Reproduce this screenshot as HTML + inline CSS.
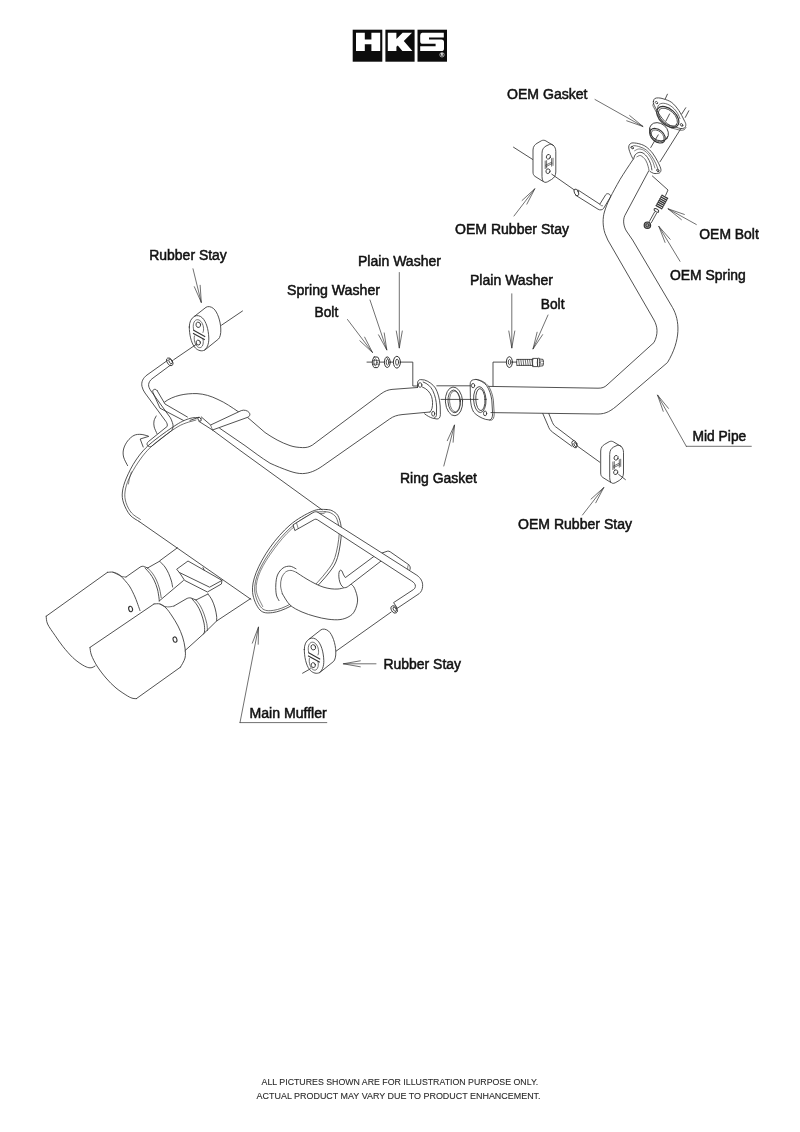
<!DOCTYPE html>
<html><head><meta charset="utf-8"><title>HKS Exhaust Diagram</title>
<style>
html,body{margin:0;padding:0;background:#fff;}
body{width:800px;height:1132px;overflow:hidden;font-family:"Liberation Sans",sans-serif;}
svg{display:block;}
svg text{font-family:"Liberation Sans",sans-serif;}
</style></head><body>
<svg width="800" height="1132" viewBox="0 0 800 1132" style="will-change:transform">
<rect width="800" height="1132" fill="#fff"/>
<g id="logo">
<rect x="352.7" y="29.7" width="29.6" height="32" fill="#0c0c0c"/>
<rect x="385.4" y="29.7" width="29.2" height="32" fill="#0c0c0c"/>
<rect x="417.5" y="29.7" width="29.5" height="32" fill="#0c0c0c"/>
<path d="M356,32.8h8.8v6.6h6.6v-6.6h8.8v18.2h-8.8v-6.8h-6.6v6.8h-8.8z" fill="#fff"/>
<path d="M387.8,32.8h8.6v6.2l6.2,-6.2h9.4l-8.2,8.2l8.6,10h-10l-4.6,-5.6l-1.4,1.4v4.2h-8.6z" fill="#fff"/>
<path d="M422.2,32.8h21.6v4.6h-14.8v2.2h12.4q2.6,0 2.6,2.6v6.2q0,2.6 -2.6,2.6h-21.2v-4.8h15.4v-2.4h-12.8q-2.6,0 -2.6,-2.6v-5.8q0,-2.6 2,-2.6z" fill="#fff"/>
<circle cx="442" cy="54.8" r="2.2" fill="none" stroke="#fff" stroke-width="0.6"/>
<text x="440.7" y="56.2" font-size="3.6" font-weight="bold" fill="#fff">R</text>
</g>
<g id="lines" fill="none" stroke="#333" stroke-width="0.85" stroke-linecap="round" stroke-linejoin="round">
<path d="M595,99.5L643,126.5M626.71,120.78L643,126.5L629.65,115.55" stroke-width="0.7"/>
<path d="M514,216L534.8,188.8M526.86,204.13L534.8,188.8L522.09,200.48" stroke-width="0.7"/>
<path d="M696.3,224.5L668,208.8M684.32,214.42L668,208.8L681.41,219.67" stroke-width="0.7"/>
<path d="M680,261.3L658.8,226.3M670.17,239.29L658.8,226.3L665.04,242.39" stroke-width="0.7"/>
<path d="M193,268.8L201.3,302.5M194.32,286.71L201.3,302.5L200.15,285.28" stroke-width="0.7"/>
<path d="M399.3,272.5L399.3,348M396.30,331.00L399.3,348L402.30,331.00" stroke-width="0.7"/>
<path d="M370,300L386.8,350M378.54,334.84L386.8,350L384.23,332.93" stroke-width="0.7"/>
<path d="M347.5,319.5L372.5,352.5M359.84,340.76L372.5,352.5L364.63,337.14" stroke-width="0.7"/>
<path d="M511.8,293.8L511.8,348M508.80,331.00L511.8,348L514.80,331.00" stroke-width="0.7"/>
<path d="M548,315L533,349M537.12,332.24L533,349L542.61,334.66" stroke-width="0.7"/>
<path d="M443.8,466L454.5,425M453.11,442.21L454.5,425L447.30,440.69" stroke-width="0.7"/>
<path d="M582.5,515L603.8,487.5M595.76,502.78L603.8,487.5L591.02,499.10" stroke-width="0.7"/>
<path d="M376,663.8L343.3,663.8M360.30,660.80L343.3,663.8L360.30,666.80" stroke-width="0.7"/>
<path d="M686.3,446.3L657.5,395M668.44,408.36L657.5,395L663.21,411.29" stroke-width="0.7"/>
<path d="M686.3,446.3L751.3,446.3" stroke-width="0.7"/>
<path d="M240,722.6L258.5,627M258.22,644.26L258.5,627L252.32,643.12" stroke-width="0.7"/>
<path d="M240,722.6L326.8,722.6" stroke-width="0.7"/>
<path d="M653.40,101.60 C653.55,100.66 653.83,99.22 654.70,98.60 C655.57,97.98 657.07,97.83 658.60,97.90 C660.13,97.97 661.71,98.23 663.90,99.00 C666.09,99.77 669.27,100.60 671.75,102.50 C674.23,104.40 676.71,107.48 678.75,110.40 C680.79,113.32 682.83,117.67 684.00,120.00 C685.17,122.33 685.70,123.08 685.80,124.40 C685.90,125.72 685.48,127.22 684.60,127.90 C683.72,128.58 681.92,128.62 680.50,128.50 C679.08,128.38 677.78,127.68 676.10,127.20 C674.42,126.72 672.25,126.53 670.40,125.60 C668.55,124.67 666.67,123.20 665.00,121.60 C663.33,120.00 661.75,117.87 660.40,116.00 C659.05,114.13 658.00,112.36 656.90,110.40 C655.80,108.44 654.38,105.72 653.80,104.25 C653.22,102.78 653.25,102.54 653.40,101.60Z"/>
<path d="M653.50,103.40 C653.40,103.73 652.82,104.67 652.90,105.40 C652.98,106.13 653.45,106.70 654.00,107.80 C654.55,108.90 655.27,110.33 656.20,112.00 C657.13,113.67 658.27,115.90 659.60,117.80 C660.93,119.70 662.50,121.80 664.20,123.40 C665.90,125.00 667.90,126.47 669.80,127.40 C671.70,128.33 673.87,128.53 675.60,129.00 C677.33,129.47 678.80,130.07 680.20,130.20 C681.60,130.33 683.05,130.23 684.00,129.80 C684.95,129.37 685.58,127.97 685.90,127.60" stroke-width="0.7"/>
<ellipse cx="667.8" cy="117" rx="13" ry="8" transform="rotate(42 667.8 117)" stroke-width="1.15"/>
<ellipse cx="668" cy="117.2" rx="11.4" ry="6.6" transform="rotate(42 668 117.2)" stroke-width="0.8"/>
<path d="M657.6,108.6 C657.2,104.6 660.6,102.4 665.6,103.6 C671.6,105 677.6,111 680,118.6" stroke-width="0.7"/>
<ellipse cx="656.5" cy="102.6" rx="1.4" ry="1.0" transform="rotate(40 656.5 102.6)" stroke-width="0.7"/>
<ellipse cx="681.6" cy="124.9" rx="1.5" ry="1.1" transform="rotate(40 681.6 124.9)"/>
<path d="M667.4,94.2L665.2,99"/>
<path d="M685.75,107.75L681.8,113.9"/>
<path d="M688.8,110.8L685.3,117.4"/>
<path d="M669.6,113.9L666,120.9"/>
<ellipse cx="659" cy="131.8" rx="10.4" ry="8.2" transform="rotate(40 659 131.8)"/>
<ellipse cx="657.5" cy="135.7" rx="8.8" ry="6.0" transform="rotate(40 657.5 135.7)" stroke-width="1.15"/>
<ellipse cx="657.7" cy="135.9" rx="7.4" ry="4.7" transform="rotate(40 657.7 135.9)" stroke-width="0.7"/>
<path d="M650.2,128.8L649.8,133.2"/>
<path d="M667.6,136.4L665.6,139.8"/>
<path d="M658.2,134.9L650.75,147.5"/>
<path d="M681,128.4L660,161.8"/>
<path d="M633.10,159.00 C632.90,158.65 632.48,158.17 631.90,156.90 C631.32,155.63 630.13,153.05 629.60,151.40 C629.07,149.75 628.63,148.23 628.70,147.00 C628.77,145.77 629.27,144.68 630.00,144.00 C630.73,143.32 631.43,142.90 633.10,142.90 C634.77,142.90 637.81,143.33 640.00,144.00 C642.19,144.67 644.17,145.38 646.25,146.90 C648.33,148.42 650.62,150.71 652.50,153.10 C654.38,155.49 656.15,158.75 657.50,161.25 C658.85,163.75 660.07,166.41 660.60,168.10 C661.13,169.79 661.01,170.55 660.70,171.40 C660.39,172.25 659.91,172.87 658.75,173.20 C657.59,173.53 655.21,173.70 653.75,173.40 C652.29,173.10 650.62,171.73 650.00,171.40"/>
<path d="M631.30,147.60 C631.71,147.28 632.30,145.82 633.75,145.70 C635.20,145.58 637.92,146.18 640.00,146.90 C642.08,147.62 644.38,148.55 646.25,150.00 C648.12,151.45 649.69,153.42 651.25,155.60 C652.81,157.78 654.46,160.70 655.60,163.10 C656.74,165.50 657.77,168.55 658.10,170.00 C658.43,171.45 657.68,171.50 657.60,171.80" stroke-width="0.7"/>
<path d="M633.75,158.75 C633.96,158.12 634.17,156.04 635.00,155.00 C635.83,153.96 637.40,152.82 638.75,152.50 C640.10,152.18 641.64,152.27 643.10,153.10 C644.56,153.93 646.25,155.72 647.50,157.50 C648.75,159.28 649.87,161.67 650.60,163.75 C651.33,165.83 651.68,168.96 651.90,170.00"/>
<path d="M636.90,156.90 C637.52,156.68 639.15,155.08 640.60,155.60 C642.05,156.12 644.35,158.22 645.60,160.00 C646.85,161.78 647.55,164.58 648.10,166.25 C648.65,167.92 648.77,169.38 648.90,170.00" stroke-width="0.7"/>
<path d="M634.60,150.80 C635.27,150.50 637.10,149.10 638.60,149.00 C640.10,148.90 641.90,149.23 643.60,150.20 C645.30,151.17 647.30,152.97 648.80,154.80 C650.30,156.63 651.58,159.00 652.60,161.20 C653.62,163.40 654.52,166.87 654.90,168.00" stroke-width="0.6"/>
<ellipse cx="632.2" cy="147.6" rx="1.4" ry="1.0" transform="rotate(40 632.2 147.6)"/>
<ellipse cx="657.8" cy="170.4" rx="1.4" ry="1.0" transform="rotate(40 657.8 170.4)"/>
<path d="M652.4,176 L668,190 L665.6,195.4"/>
<path d="M662.0,195.2L667.6,198.4" stroke-width="1.25"/>
<path d="M661.03,196.93L666.63,200.13" stroke-width="1.25"/>
<path d="M660.07,198.67L665.67,201.87" stroke-width="1.25"/>
<path d="M659.1,200.4L664.7,203.6" stroke-width="1.25"/>
<path d="M658.13,202.13L663.73,205.33" stroke-width="1.25"/>
<path d="M657.17,203.87L662.77,207.07" stroke-width="1.25"/>
<path d="M656.2,205.6L661.8,208.8" stroke-width="1.25"/>
<path d="M662,195.2 L656.2,205.6 M667.6,198.4 L661.8,208.8" stroke-width="0.8"/>
<ellipse cx="656.4" cy="210.4" rx="2.6" ry="1.4" transform="rotate(30 656.4 210.4)" stroke-width="1.0"/>
<path d="M654.6,212 L649.4,221.4 M656.6,213.2 L651.4,222.6"/>
<ellipse cx="647.4" cy="225.2" rx="3.2" ry="3.2" transform="rotate(0 647.4 225.2)" fill="#999" stroke-width="1.2"/>
<ellipse cx="647.4" cy="225.2" rx="1.6" ry="1.6" transform="rotate(0 647.4 225.2)" stroke-width="0.9"/>
<path d="M633.1,159.4 C628,167 624,173 620,179.5 C616,186.6 613,192 610,198 C607,204 605.6,208 604.4,212 C602.6,218 602.6,226 605,233.4 L607.8,240 L654,320 C657.6,326.6 658.4,334 654,342.5 L607,385 C604.6,387.4 602,388.2 598,388.2 L489,386.4"/>
<path d="M648.75,170.8 L624.8,215.6 C622.8,220 623.4,226 626.4,231 L632.6,240 L672.5,307.5 C680,320.6 681,340 667.5,362.5 L619,404 C611,411 606,414 598,414 L491,412.6"/>
<path d="M 542.00 153.00 C 542.00 149.50 543.50 147.50 546.00 146.00 L 549.50 144.40 C 551.00 144.00 552.40 144.40 553.60 145.60 C 555.00 147.00 555.80 149.00 555.80 151.50 L 555.80 172.00 C 555.80 175.50 554.00 178.00 551.50 179.50 L 547.50 181.80 C 545.50 182.80 544.00 182.40 543.00 181.00 C 542.30 180.00 542.00 178.50 542.00 177.00 Z"/>
<path d="M 553.60 145.60 L 546.00 141.00 C 544.60 140.10 543.00 140.00 541.50 140.70 L 537.00 143.30 C 535.00 144.50 533.00 146.50 533.00 150.00 L 533.00 172.00 C 533.00 174.00 533.60 175.40 535.00 176.40 L 543.00 181.40"/>
<ellipse cx="548.4" cy="156.8" rx="2.0" ry="2.4" transform="rotate(20 548.4 156.8)"/>
<ellipse cx="548.0" cy="171.2" rx="2.0" ry="2.4" transform="rotate(20 548.0 171.2)"/>
<path d="M 545.20 161.00 L 545.20 168.60 M 546.60 160.60 L 546.60 168.00 M 545.60 165.20 L 551.60 162.20 M 546.00 166.60 L 552.00 163.60 M 551.60 158.60 L 551.60 166.20 M 553.00 158.20 L 553.00 165.40" stroke-width="0.7"/>
<path d="M 609.70 454.00 C 609.70 450.50 611.20 448.50 613.70 447.00 L 617.20 445.40 C 618.70 445.00 620.10 445.40 621.30 446.60 C 622.70 448.00 623.50 450.00 623.50 452.50 L 623.50 473.00 C 623.50 476.50 621.70 479.00 619.20 480.50 L 615.20 482.80 C 613.20 483.80 611.70 483.40 610.70 482.00 C 610.00 481.00 609.70 479.50 609.70 478.00 Z"/>
<path d="M 621.30 446.60 L 613.70 442.00 C 612.30 441.10 610.70 441.00 609.20 441.70 L 604.70 444.30 C 602.70 445.50 600.70 447.50 600.70 451.00 L 600.70 473.00 C 600.70 475.00 601.30 476.40 602.70 477.40 L 610.70 482.40"/>
<ellipse cx="616.1" cy="457.8" rx="2.0" ry="2.4" transform="rotate(20 616.1 457.8)"/>
<ellipse cx="615.7" cy="472.2" rx="2.0" ry="2.4" transform="rotate(20 615.7 472.2)"/>
<path d="M 612.90 462.00 L 612.90 469.60 M 614.30 461.60 L 614.30 469.00 M 613.30 466.20 L 619.30 463.20 M 613.70 467.60 L 619.70 464.60 M 619.30 459.60 L 619.30 467.20 M 620.70 459.20 L 620.70 466.40" stroke-width="0.7"/>
<path d="M513.5,147.2L532.6,159.4"/>
<path d="M551.8,174.2L574.4,190"/>
<ellipse cx="576.4" cy="192.4" rx="2.0" ry="3.6" transform="rotate(-25 576.4 192.4)"/>
<path d="M578,190 L599.8,204.2 L605.8,194.6 C606.6,193.4 608.4,193.4 609.6,194.4 C610.6,195.2 610.8,196.4 610.2,197.4 L603.6,208.4 C602.4,210 600,210.4 598,209.2 L575.6,195.2"/>
<path d="M599.8,204.2 C600.4,205.6 601.6,206 602.6,205.8" stroke-width="0.6"/>
<path d="M548.8,413.6 L552.4,422.4 C553.4,424.8 555,426.6 557,427.8 L573.6,440.4"/>
<path d="M542.8,413.6 L548,425.6 C549,428.6 550.4,430.6 552.6,432.2 L572,446.4"/>
<ellipse cx="574.6" cy="444.2" rx="2.3" ry="3.9" transform="rotate(-25 574.6 444.2)"/>
<ellipse cx="575.4" cy="444.6" rx="1.2" ry="2.2" transform="rotate(-25 575.4 444.6)"/>
<path d="M577.8,446.4L599.8,462.2"/>
<path d="M618.6,474.4L625.4,479.6"/>
<path d="M 189.30 327.00 C 189.30 322.00 191.00 318.50 194.50 316.30 C 197.00 315.00 200.00 315.50 202.50 318.00 C 206.00 321.50 208.50 329.00 208.80 338.00 C 209.00 344.00 207.00 349.00 203.50 350.50 C 200.50 351.50 197.00 350.00 194.50 347.00 C 191.00 342.50 189.30 334.00 189.30 327.00 Z"/>
<path d="M 194.50 316.30 L 206.00 307.30 C 208.00 306.00 211.00 306.50 213.50 308.50 C 217.50 312.00 220.50 321.00 220.80 329.00 C 221.00 334.00 220.00 337.50 218.50 339.00 L 204.60 350.20"/>
<ellipse cx="198.3" cy="324.8" rx="2.3" ry="2.7" transform="rotate(-15 198.3 324.8)"/>
<ellipse cx="198.3" cy="342.6" rx="2.1" ry="2.5" transform="rotate(-15 198.3 342.6)"/>
<path d="M 193.60 329.60 C 192.60 325.00 193.60 320.80 196.60 319.80 C 199.60 319.00 202.60 322.40 203.40 327.00 C 203.80 329.40 203.60 331.00 203.00 332.40" stroke-width="0.7"/>
<path d="M 194.40 336.00 C 194.00 338.00 194.20 340.40 195.00 342.80 C 196.20 346.40 198.80 348.40 201.00 347.40 C 203.20 346.20 203.80 342.60 203.00 339.00" stroke-width="0.7"/>
<path d="M 193.60 330.20 L 204.80 336.60 M 193.40 333.40 L 204.40 339.60" stroke-width="1.1"/>
<path d="M 304.30 649.50 C 304.30 644.50 306.00 641.00 309.50 638.80 C 312.00 637.50 315.00 638.00 317.50 640.50 C 321.00 644.00 323.50 651.50 323.80 660.50 C 324.00 666.50 322.00 671.50 318.50 673.00 C 315.50 674.00 312.00 672.50 309.50 669.50 C 306.00 665.00 304.30 656.50 304.30 649.50 Z"/>
<path d="M 309.50 638.80 L 321.00 629.80 C 323.00 628.50 326.00 629.00 328.50 631.00 C 332.50 634.50 335.50 643.50 335.80 651.50 C 336.00 656.50 335.00 660.00 333.50 661.50 L 319.60 672.70"/>
<ellipse cx="313.3" cy="647.3" rx="2.3" ry="2.7" transform="rotate(-15 313.3 647.3)"/>
<ellipse cx="313.3" cy="665.1" rx="2.1" ry="2.5" transform="rotate(-15 313.3 665.1)"/>
<path d="M 308.60 652.10 C 307.60 647.50 308.60 643.30 311.60 642.30 C 314.60 641.50 317.60 644.90 318.40 649.50 C 318.80 651.90 318.60 653.50 318.00 654.90" stroke-width="0.7"/>
<path d="M 309.40 658.50 C 309.00 660.50 309.20 662.90 310.00 665.30 C 311.20 668.90 313.80 670.90 316.00 669.90 C 318.20 668.70 318.80 665.10 318.00 661.50" stroke-width="0.7"/>
<path d="M 308.60 652.70 L 319.80 659.10 M 308.40 655.90 L 319.40 662.10" stroke-width="1.1"/>
<path d="M221.5,325.2L242.5,311"/>
<path d="M196.8,344L173.6,359.8"/>
<ellipse cx="169.8" cy="361.8" rx="2.6" ry="4.3" transform="rotate(-30 169.8 361.8)"/>
<ellipse cx="170.6" cy="361.4" rx="1.4" ry="2.6" transform="rotate(-30 170.6 361.4)"/>
<path d="M336,651.2L391.2,612"/>
<path d="M310.4,668.8L302.6,673.2"/>
<path d="M367,362.1L372.2,362.1"/>
<path d="M379.4,362.1L384.4,362.1"/>
<path d="M390.2,362.1L393.4,362.1"/>
<path d="M400.4,362.1 L412.8,362.1 L412.8,386 L417.5,386"/>
<path d="M374.2,357 L377.6,357 C378.8,358.4 379.4,360.2 379.4,362.2 C379.4,364.4 378.8,366.2 377.6,367.6 L374.2,367.6 C373,366.2 372.3,364.4 372.3,362.2 C372.3,360.2 373,358.4 374.2,357Z" stroke-width="1.0"/>
<ellipse cx="375.4" cy="362.3" rx="1.6" ry="3.4" transform="rotate(0 375.4 362.3)"/>
<path d="M372.6,360.4L379.2,360.4" stroke-width="0.6"/>
<path d="M372.6,364.2L379.2,364.2" stroke-width="0.6"/>
<ellipse cx="387.3" cy="362.2" rx="2.9" ry="5.3" transform="rotate(0 387.3 362.2)" stroke-width="1.0"/>
<ellipse cx="387.5" cy="362.2" rx="1.3" ry="2.9" transform="rotate(0 387.5 362.2)"/>
<path d="M386.4,357.2L388.6,360" stroke-width="0.6"/>
<ellipse cx="396.9" cy="362.2" rx="3.5" ry="5.9" transform="rotate(0 396.9 362.2)" stroke-width="1.0"/>
<ellipse cx="397.1" cy="362.2" rx="1.5" ry="3.1" transform="rotate(0 397.1 362.2)"/>
<path d="M417.5,387.4 L417.5,383.4 C417.6,381 418.8,379.6 420.6,379.6 L424.6,380 C429,381.4 433,384.6 435.4,388 C438,392.6 439.6,398.6 440.2,406 L440.4,414.6 C440.2,417.6 439,419 437,419 L432.6,418.2 C430,417.4 427,415.8 424.6,413.8"/>
<path d="M423.2,382 C427.6,383.6 430.8,386.6 432.8,390.6 C435.2,395.6 436.4,401 436.6,407 L436.4,415.4 C436.2,416.6 435.6,417.4 434.6,417.4"/>
<ellipse cx="420.1" cy="385" rx="1.8" ry="2.3" transform="rotate(0 420.1 385)"/>
<ellipse cx="433.2" cy="413.7" rx="1.5" ry="2.4" transform="rotate(0 433.2 413.7)"/>
<path d="M422.4,387 C426.6,388.6 430,392 431.6,396.6 C432.8,400.6 432.8,405 432,408.4 C431.6,410 430.8,411.2 430,412"/>
<ellipse cx="454" cy="401.4" rx="8.6" ry="14.4" transform="rotate(-4 454 401.4)"/>
<ellipse cx="454.2" cy="401.4" rx="6.2" ry="11.4" transform="rotate(-4 454.2 401.4)"/>
<ellipse cx="454.8" cy="401.4" rx="5.2" ry="10.4" transform="rotate(-4 454.8 401.4)" stroke-width="0.6"/>
<path d="M441,399.4L478,399.4"/>
<path d="M436.8,385.8L470.4,385.8"/>
<path d="M470.2,383.6 C470.2,381.6 471.4,380.2 473.2,379.8 L476,379.4 C480,380.2 484,382.4 486.6,385.6 C489.4,389.6 491,394.6 491.8,400 L492.6,413.6 C492.6,417.4 491.6,419.6 489.6,420 L485.6,419.4 C481,418 476.4,415.4 473.6,412 C471.6,408.6 470.6,404 470.4,398 Z"/>
<path d="M476,379.4 L477.6,379.6 C481.6,380.4 485.6,382.6 488.2,385.8 C491,389.8 492.6,394.8 493.4,400.2 L494.2,413.8 C494.2,417.6 493.2,419.8 491.2,420.2 L489.6,420" stroke-width="0.7"/>
<ellipse cx="479.8" cy="399.6" rx="6.2" ry="13" transform="rotate(-3 479.8 399.6)"/>
<ellipse cx="480.4" cy="399.6" rx="4.6" ry="11" transform="rotate(-3 480.4 399.6)"/>
<ellipse cx="473.1" cy="385.6" rx="1.6" ry="2.2" transform="rotate(0 473.1 385.6)"/>
<ellipse cx="485.1" cy="413.4" rx="1.6" ry="2.4" transform="rotate(0 485.1 413.4)"/>
<path d="M506,362.1 L493,362.1 L493,386"/>
<ellipse cx="509.4" cy="362.1" rx="3.0" ry="5.4" transform="rotate(0 509.4 362.1)" stroke-width="1.0"/>
<ellipse cx="509.6" cy="362.1" rx="1.3" ry="2.6" transform="rotate(0 509.6 362.1)"/>
<path d="M512.6,362.1L516.8,362.1"/>
<path d="M517,359.4 L533,359.4 M517,365.4 L533,365.4 M517,359.4 C516.4,361 516.4,363.6 517,365.4"/>
<path d="M518.6,359.4L519.4,365.4" stroke-width="0.7"/>
<path d="M520.8000000000001,359.4L521.6,365.4" stroke-width="0.7"/>
<path d="M523.0,359.4L523.8,365.4" stroke-width="0.7"/>
<path d="M525.2,359.4L526.0,365.4" stroke-width="0.7"/>
<path d="M527.4,359.4L528.1999999999999,365.4" stroke-width="0.7"/>
<path d="M529.6,359.4L530.4,365.4" stroke-width="0.7"/>
<path d="M531.8000000000001,359.4L532.6,365.4" stroke-width="0.7"/>
<path d="M533,358.4 L537.6,358.4 L537.6,366.6 L533,366.6 Z"/>
<ellipse cx="538.6" cy="362.5" rx="1.3" ry="4.7" transform="rotate(0 538.6 362.5)"/>
<path d="M539.6,359 L543,359.4 C543.6,361.4 543.6,363.8 543,365.8 L539.6,366.2"/>
<path d="M539.8,361L543.4,361.2" stroke-width="0.6"/>
<path d="M539.8,364L543.4,364" stroke-width="0.6"/>
<path d="M417.5,387.5 L392,389.4 C388,389.8 385,391 381,393.8 L312.5,445 C309,447.2 306,447.8 302.5,447.6 C298,447.4 294,447 290,445.6 C281,442.6 273,438 265,432.5 L250,419.5 C246,416 242,413.5 238,411.5 C232,407.5 225,402.5 218,399.5 C211,396 204,394 197,393.6 C191,393.4 185,394 180,395.2 C174,396.6 169,398.8 164.6,402"/>
<path d="M430,412 L402,414.6 C397,415.2 393.6,416.2 389.6,419 L322.5,466 C316,470.6 309.6,473.4 302.5,473.6 C298,473.6 294,472.6 290,471.25 C283,468.8 276,466 270,463.2 C261,457.6 253,451.4 245,445.6 L219.6,428.2"/>
<path d="M201.25,416.9 L210.6,425 L241.25,410.6 C244,409.6 247.5,410.4 249.2,412.6 C250.6,414.6 249.6,416.6 247.4,417.4 L212.5,430 L198.75,421.25" fill="#fff"/>
<path d="M210.6,425L212.5,430" stroke-width="0.6"/>
<path d="M167.5,360.4 L147,375 C143,378 141,382 142,386.5 C142.6,389 143.6,391 145,393 L166,421.6 C167,423 167.6,424.6 167.2,426.4 L148.4,441.6 C147,442.8 146.6,444.4 147.6,445.6 C148.6,446.8 150,447 151.4,446.4 L171.6,430.6 C173.2,428.6 173.6,425.6 172.4,422.6 C171.8,420.6 171,419 170.4,417.8 L151,391 C149.4,388.6 148.4,386.6 148.6,384.6 C148.8,382.4 150,380.4 152,378.8 L170.6,365"/>
<path d="M157,390.4 C156,389 154.4,389 153.4,389.8 C152.6,390.6 152.6,391.6 153,392.6 L160,408.2 L183.4,420.4"/>
<path d="M157,390.4 L165,404 L187.4,417"/>
<path d="M199.00,417.60 C197.50,417.73 193.83,417.17 190.00,418.40 C186.17,419.63 182.67,420.73 176.00,425.00 C169.33,429.27 156.67,438.17 150.00,444.00 C143.33,449.83 139.93,454.33 136.00,460.00 C132.07,465.67 128.67,472.67 126.40,478.00 C124.13,483.33 122.87,487.83 122.40,492.00 C121.93,496.17 122.33,499.17 123.60,503.00 C124.87,506.83 127.43,511.93 130.00,515.00 C132.57,518.07 137.50,520.33 139.00,521.40"/>
<path d="M196.00,420.00 C193.00,421.10 185.33,422.27 178.00,426.60 C170.67,430.93 158.60,440.10 152.00,446.00 C145.40,451.90 142.27,456.50 138.40,462.00 C134.53,467.50 131.03,474.00 128.80,479.00 C126.57,484.00 125.47,488.07 125.00,492.00 C124.53,495.93 124.90,499.10 126.00,502.60 C127.10,506.10 129.20,510.20 131.60,513.00 C134.00,515.80 138.93,518.33 140.40,519.40" stroke-width="0.7"/>
<path d="M131.40,472.00 C131.10,473.00 130.10,476.00 129.60,478.00 C129.10,480.00 128.60,483.00 128.40,484.00" stroke-width="0.6"/>
<path d="M190,420.4 L198.6,417.4"/>
<ellipse cx="199.6" cy="419.2" rx="1.4" ry="2.2" transform="rotate(-30 199.6 419.2)"/>
<path d="M212.5,430 L240,450.4 L322,509.8"/>
<path d="M139,521.4L251,599.4"/>
<path d="M156.20,416.00 C155.83,416.83 154.33,419.17 154.00,421.00 C153.67,422.83 153.70,424.90 154.20,427.00 C154.70,429.10 156.53,432.50 157.00,433.60"/>
<path d="M148.00,436.00 C146.83,435.73 143.33,434.50 141.00,434.40 C138.67,434.30 136.23,434.30 134.00,435.40 C131.77,436.50 129.33,438.73 127.60,441.00 C125.87,443.27 124.27,446.33 123.60,449.00 C122.93,451.67 122.93,454.23 123.60,457.00 C124.27,459.77 126.93,464.17 127.60,465.60"/>
<path d="M148.6,436.4 L140.2,439 L143.2,447"/>
<path d="M326.20,509.50 C329.70,509.55 331.40,510.17 333.50,511.50 C335.60,512.83 337.48,514.00 338.80,517.50 C340.12,521.00 341.62,525.83 341.40,532.50 C341.18,539.17 339.60,550.75 337.50,557.50 C335.40,564.25 333.38,567.08 328.80,573.00 C324.22,578.92 316.47,587.42 310.00,593.00 C303.53,598.58 296.25,603.23 290.00,606.50 C283.75,609.77 277.50,612.02 272.50,612.60 C267.50,613.18 263.32,613.35 260.00,610.00 C256.68,606.65 253.23,598.75 252.60,592.50 C251.97,586.25 253.30,580.00 256.20,572.50 C259.10,565.00 264.37,555.42 270.00,547.50 C275.63,539.58 282.92,531.05 290.00,525.00 C297.08,518.95 306.47,513.78 312.50,511.20 C318.53,508.62 322.70,509.45 326.20,509.50Z"/>
<path d="M325.02,511.82 C328.37,511.80 330.02,512.37 332.02,513.64 C334.03,514.91 335.84,516.03 337.04,519.41 C338.24,522.79 339.57,527.55 339.21,533.90 C338.85,540.26 337.02,551.24 334.90,557.55 C332.78,563.86 330.77,566.28 326.51,571.76 C322.26,577.25 315.36,585.11 309.37,590.48 C303.39,595.84 296.54,600.66 290.59,603.97 C284.65,607.27 278.55,609.64 273.72,610.30 C268.89,610.97 264.79,611.18 261.62,607.97 C258.46,604.75 255.22,597.04 254.73,591.00 C254.23,584.96 255.72,578.82 258.68,571.71 C261.63,564.60 267.10,555.71 272.46,548.34 C277.82,540.96 284.27,533.23 290.84,527.46 C297.41,521.69 306.20,516.34 311.90,513.73 C317.59,511.12 321.66,511.83 325.02,511.82Z" stroke-width="0.7"/>
<path d="M262.74,606.56 C261.65,603.79 256.59,595.86 256.20,589.97 C255.80,584.07 257.40,578.01 260.39,571.17 C263.39,564.33 268.99,555.92 274.17,548.92 C279.34,541.92 285.20,534.74 291.42,529.16 C297.64,523.59 306.02,518.10 311.48,515.48 C316.94,512.86 322.08,513.76 324.20,513.42" stroke-width="0.6"/>
<path d="M296.00,568.80 C295.00,568.37 292.17,566.33 290.00,566.20 C287.83,566.07 285.08,566.53 283.00,568.00 C280.92,569.47 278.70,572.17 277.50,575.00 C276.30,577.83 275.98,581.67 275.80,585.00 C275.62,588.33 275.87,592.40 276.40,595.00 C276.93,597.60 278.57,599.67 279.00,600.60 L282.40,593.80 C283.67,595.67 286.73,601.97 290.00,605.00 C293.27,608.03 297.83,610.10 302.00,612.00 C306.17,613.90 310.67,615.20 315.00,616.40 C319.33,617.60 323.83,618.67 328.00,619.20 C332.17,619.73 336.50,620.03 340.00,619.60 C343.50,619.17 346.57,618.03 349.00,616.60 C351.43,615.17 353.17,613.77 354.60,611.00 C356.03,608.23 357.60,603.77 357.60,600.00 C357.60,596.23 355.77,591.13 354.60,588.40 C353.43,585.67 352.03,585.17 350.60,583.60 C349.17,582.03 346.77,579.77 346.00,579.00 L343.40,588.00 C342.50,588.17 340.07,588.87 338.00,589.00 C335.93,589.13 333.50,589.13 331.00,588.80 C328.50,588.47 325.67,587.87 323.00,587.00 C320.33,586.13 317.83,585.00 315.00,583.60 C312.17,582.20 309.10,580.47 306.00,578.60 C302.90,576.73 298.00,573.43 296.40,572.40Z" fill="#fff" stroke="none"/>
<path d="M296.00,568.80 C295.00,568.37 292.17,566.33 290.00,566.20 C287.83,566.07 285.08,566.53 283.00,568.00 C280.92,569.47 278.70,572.17 277.50,575.00 C276.30,577.83 275.98,581.67 275.80,585.00 C275.62,588.33 275.87,592.40 276.40,595.00 C276.93,597.60 278.57,599.67 279.00,600.60"/>
<path d="M296.40,572.40 C295.50,572.07 292.80,570.47 291.00,570.40 C289.20,570.33 287.17,570.73 285.60,572.00 C284.03,573.27 282.43,575.67 281.60,578.00 C280.77,580.33 280.47,583.37 280.60,586.00 C280.73,588.63 282.10,592.50 282.40,593.80" stroke-width="0.7"/>
<path d="M282.40,593.80 C283.67,595.67 286.73,601.97 290.00,605.00 C293.27,608.03 297.83,610.10 302.00,612.00 C306.17,613.90 310.67,615.20 315.00,616.40 C319.33,617.60 323.83,618.67 328.00,619.20 C332.17,619.73 336.50,620.03 340.00,619.60 C343.50,619.17 346.57,618.03 349.00,616.60 C351.43,615.17 353.17,613.77 354.60,611.00 C356.03,608.23 357.60,603.77 357.60,600.00 C357.60,596.23 355.77,591.13 354.60,588.40 C353.43,585.67 352.03,585.17 350.60,583.60 C349.17,582.03 346.77,579.77 346.00,579.00"/>
<path d="M296.40,572.40 C298.00,573.43 302.90,576.73 306.00,578.60 C309.10,580.47 312.17,582.20 315.00,583.60 C317.83,585.00 320.33,586.13 323.00,587.00 C325.67,587.87 328.50,588.47 331.00,588.80 C333.50,589.13 335.93,589.13 338.00,589.00 C340.07,588.87 342.50,588.17 343.40,588.00"/>
<path d="M380.6,554.6 L381.4,553.2 L387.4,551.2 C388.4,551 389.4,551.2 390.2,551.8 L408.6,564.6 C410,565.8 410.6,567.6 410,569.4 L408.2,572.2 L380.6,554.6" fill="#fff"/>
<path d="M408.6,564.6 C407.4,566.4 407.2,569 408.2,572.2" stroke-width="0.6"/>
<path d="M376.4,554.6 L345.4,577.6 C344,576 343,574 342.4,572 C341.8,570.2 340.4,569.6 339.6,570.8 C338.6,572.6 338.6,576 339.2,579.4 C339.8,583 341.2,586 343.4,587.4 C345,588.2 346.8,587.4 348.4,586.2 L382.2,560.2 Z" fill="#fff"/>
<path d="M293.4,524.6 L313,512.6 C314.6,511.6 316.4,511.4 318,512.4 L416.8,575.2 C420.8,578 423,581.8 422.6,586.4 C422.4,589.6 421.2,592 419.2,593.6 L397.4,608.2 L393.6,602.6 L413.4,589.6 C414.6,588.8 415.2,587.8 415.4,586.4 C415.6,584.4 414.2,582.6 411.4,580.8 L317.2,519.6 C316.4,519.2 315.4,519 314.6,519.4 L295.2,530.4 Z" fill="#fff"/>
<path d="M296.6,523.2L298.2,528.4" stroke-width="0.6"/>
<ellipse cx="394.2" cy="609.4" rx="2.8" ry="4.0" transform="rotate(-30 394.2 609.4)" fill="#fff"/>
<ellipse cx="394.8" cy="609.2" rx="1.4" ry="2.4" transform="rotate(-30 394.8 609.2)"/>
<path d="M177.4,547.8L160,560.6"/>
<path d="M177,569 L188,561 L222,580.4 L221.4,584 L207.4,592 L184.6,580.4 L180.4,574 Z M179.6,572.6 L209.6,587.2 L222,580.4 M203,567.6 L204.2,570.2"/>
<path d="M46.2,616.2 L107.4,572.4"/>
<path d="M46.20,616.20 C46.43,617.50 46.13,620.80 47.60,624.00 C49.07,627.20 52.43,631.63 55.00,635.40 C57.57,639.17 60.07,642.93 63.00,646.60 C65.93,650.27 69.60,654.50 72.60,657.40 C75.60,660.30 78.50,662.33 81.00,664.00 C83.50,665.67 85.77,666.80 87.60,667.40 C89.43,668.00 90.77,667.83 92.00,667.60 C93.23,667.37 94.50,666.27 95.00,666.00"/>
<path d="M107.40,572.40 C108.33,572.37 110.97,571.77 113.00,572.20 C115.03,572.63 117.60,573.60 119.60,575.00 C121.60,576.40 123.27,578.60 125.00,580.60 C126.73,582.60 128.33,584.27 130.00,587.00 C131.67,589.73 133.57,593.73 135.00,597.00 C136.43,600.27 137.77,604.33 138.60,606.60 C139.43,608.87 139.77,609.93 140.00,610.60"/>
<path d="M113.00,572.20 C113.83,572.60 116.50,573.87 118.00,574.60 C119.50,575.33 120.67,576.20 122.00,576.60 C123.33,577.00 125.33,576.93 126.00,577.00" stroke-width="0.7"/>
<path d="M126,577 L140,567.2 C141.4,566.2 143,566 144.4,566.6 L147.6,568"/>
<path d="M145.00,568.00 C145.83,568.93 148.50,571.60 150.00,573.60 C151.50,575.60 152.77,577.43 154.00,580.00 C155.23,582.57 156.57,586.00 157.40,589.00 C158.23,592.00 158.70,596.00 159.00,598.00 C159.30,600.00 159.17,600.50 159.20,601.00"/>
<path d="M147.60,568.00 C148.40,568.87 150.93,571.20 152.40,573.20 C153.87,575.20 155.20,577.37 156.40,580.00 C157.60,582.63 158.80,586.07 159.60,589.00 C160.40,591.93 160.93,596.17 161.20,597.60" stroke-width="0.7"/>
<path d="M147.6,568 L160,561"/>
<path d="M160.00,561.60 C160.83,562.50 163.57,565.03 165.00,567.00 C166.43,568.97 167.53,571.07 168.60,573.40 C169.67,575.73 170.73,578.73 171.40,581.00 C172.07,583.27 172.40,586.00 172.60,587.00"/>
<ellipse cx="130.6" cy="609" rx="1.9" ry="2.7" transform="rotate(-15 130.6 609)" stroke-width="1.1"/>
<path d="M159.2,601 L183.4,580.6"/>
<path d="M90,647.4 L154,604"/>
<path d="M90.00,647.40 C90.23,648.67 90.23,651.90 91.40,655.00 C92.57,658.10 94.57,662.17 97.00,666.00 C99.43,669.83 102.83,674.33 106.00,678.00 C109.17,681.67 112.40,685.00 116.00,688.00 C119.60,691.00 124.77,694.27 127.60,696.00 C130.43,697.73 131.53,697.97 133.00,698.40 C134.47,698.83 135.83,698.57 136.40,698.60"/>
<path d="M136.4,698.6 L180.4,667.2"/>
<path d="M154.00,604.00 C155.00,604.00 158.00,603.33 160.00,604.00 C162.00,604.67 164.00,606.00 166.00,608.00 C168.00,610.00 170.00,613.00 172.00,616.00 C174.00,619.00 176.23,622.50 178.00,626.00 C179.77,629.50 181.43,633.33 182.60,637.00 C183.77,640.67 184.60,644.50 185.00,648.00 C185.40,651.50 185.77,654.80 185.00,658.00 C184.23,661.20 181.17,665.67 180.40,667.20"/>
<path d="M160.00,604.00 C160.83,604.43 163.33,606.13 165.00,606.60 C166.67,607.07 168.50,606.90 170.00,606.80 C171.50,606.70 173.33,606.13 174.00,606.00" stroke-width="0.7"/>
<path d="M174,606 L186,599 C187.6,598 189.4,597.6 191,598 L196,600"/>
<path d="M192.00,599.00 C192.83,600.00 195.50,602.67 197.00,605.00 C198.50,607.33 199.83,610.00 201.00,613.00 C202.17,616.00 203.40,620.00 204.00,623.00 C204.60,626.00 204.70,629.17 204.60,631.00 C204.50,632.83 203.60,633.50 203.40,634.00"/>
<path d="M196.00,600.00 C196.73,601.00 199.07,603.67 200.40,606.00 C201.73,608.33 202.93,611.07 204.00,614.00 C205.07,616.93 206.23,620.83 206.80,623.60 C207.37,626.37 207.30,629.43 207.40,630.60" stroke-width="0.7"/>
<path d="M196,600 L208,594"/>
<path d="M208.00,594.00 C208.67,595.00 210.83,597.67 212.00,600.00 C213.17,602.33 214.23,605.33 215.00,608.00 C215.77,610.67 216.33,613.83 216.60,616.00 C216.87,618.17 216.60,620.17 216.60,621.00"/>
<ellipse cx="175" cy="639.6" rx="1.9" ry="2.7" transform="rotate(-15 175 639.6)" stroke-width="1.1"/>
<path d="M185,650.6 L203.4,634 L216.6,621 L250.6,598.6"/>
</g>
<g id="labels">
<text x="507" y="99.3" font-size="14" fill="#111" stroke="#111" stroke-width="0.5" textLength="80.5" lengthAdjust="spacingAndGlyphs">OEM Gasket</text>
<text x="455" y="233.5" font-size="14" fill="#111" stroke="#111" stroke-width="0.5" textLength="114" lengthAdjust="spacingAndGlyphs">OEM Rubber Stay</text>
<text x="699.3" y="238.5" font-size="14" fill="#111" stroke="#111" stroke-width="0.5" textLength="59.5" lengthAdjust="spacingAndGlyphs">OEM Bolt</text>
<text x="670" y="280.0" font-size="14" fill="#111" stroke="#111" stroke-width="0.5" textLength="75.8" lengthAdjust="spacingAndGlyphs">OEM Spring</text>
<text x="149.3" y="259.8" font-size="14" fill="#111" stroke="#111" stroke-width="0.5" textLength="77.5" lengthAdjust="spacingAndGlyphs">Rubber Stay</text>
<text x="358" y="265.5" font-size="14" fill="#111" stroke="#111" stroke-width="0.5" textLength="83" lengthAdjust="spacingAndGlyphs">Plain Washer</text>
<text x="287" y="294.5" font-size="14" fill="#111" stroke="#111" stroke-width="0.5" textLength="93" lengthAdjust="spacingAndGlyphs">Spring Washer</text>
<text x="314.5" y="316.5" font-size="14" fill="#111" stroke="#111" stroke-width="0.5" textLength="23.7" lengthAdjust="spacingAndGlyphs">Bolt</text>
<text x="470" y="285.0" font-size="14" fill="#111" stroke="#111" stroke-width="0.5" textLength="83" lengthAdjust="spacingAndGlyphs">Plain Washer</text>
<text x="540.8" y="308.5" font-size="14" fill="#111" stroke="#111" stroke-width="0.5" textLength="23.7" lengthAdjust="spacingAndGlyphs">Bolt</text>
<text x="400" y="483.0" font-size="14" fill="#111" stroke="#111" stroke-width="0.5" textLength="77" lengthAdjust="spacingAndGlyphs">Ring Gasket</text>
<text x="692.5" y="440.5" font-size="14" fill="#111" stroke="#111" stroke-width="0.5" textLength="53.8" lengthAdjust="spacingAndGlyphs">Mid Pipe</text>
<text x="518" y="528.5" font-size="14" fill="#111" stroke="#111" stroke-width="0.5" textLength="114" lengthAdjust="spacingAndGlyphs">OEM Rubber Stay</text>
<text x="383.5" y="669.0" font-size="14" fill="#111" stroke="#111" stroke-width="0.5" textLength="77.5" lengthAdjust="spacingAndGlyphs">Rubber Stay</text>
<text x="249.5" y="717.5" font-size="14" fill="#111" stroke="#111" stroke-width="0.5" textLength="77.3" lengthAdjust="spacingAndGlyphs">Main Muffler</text>
<text x="261.6" y="1085" font-size="9.8" fill="#2a2a2a" stroke="#2a2a2a" stroke-width="0.1" textLength="276.5" lengthAdjust="spacingAndGlyphs">ALL PICTURES SHOWN ARE FOR ILLUSTRATION PURPOSE ONLY.</text>
<text x="256.6" y="1098.7" font-size="9.8" fill="#2a2a2a" stroke="#2a2a2a" stroke-width="0.1" textLength="284" lengthAdjust="spacingAndGlyphs">ACTUAL PRODUCT MAY VARY DUE TO PRODUCT ENHANCEMENT.</text>
</g>
</svg>
</body></html>
